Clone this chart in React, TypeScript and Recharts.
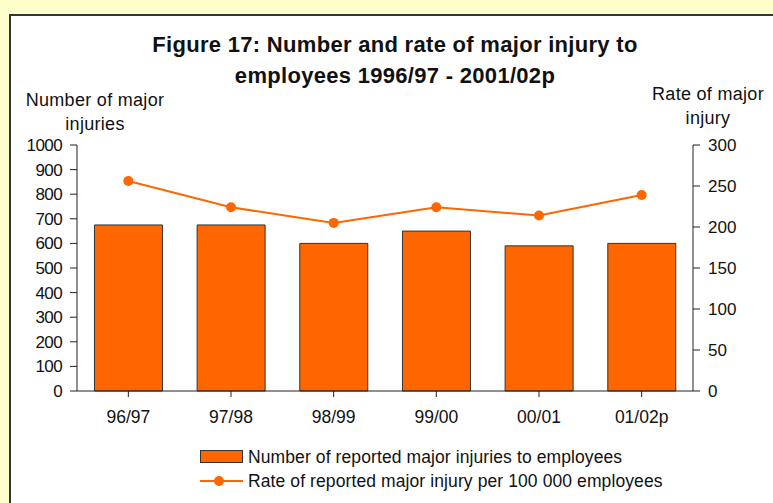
import React from "react";
import {
  ComposedChart,
  Bar,
  Line,
  XAxis,
  YAxis,
} from "recharts";

// years on the x axis
const years = ["96/97", "97/98", "98/99", "99/00", "00/01", "01/02p"];
// number of reported major injuries (left axis)
const injuries = [675, 675, 600, 650, 590, 600];
// rate per 100 000 employees (right axis)
const rates = [256, 224, 205, 224, 214, 239];

const leftTicks = [0, 100, 200, 300, 400, 500, 600, 700, 800, 900, 1000];
const rightTicks = [0, 50, 100, 150, 200, 250, 300];

const ORANGE = "#FF6600";
const AXIS = "#222";
const FONT = "'Liberation Sans', Arial, sans-serif";

const data = years.map((year, i) => ({
  year,
  injuries: injuries[i],
  rate: rates[i],
}));

const tickStyle = { fontSize: 17, fill: "#111", fontFamily: FONT };

const App: React.FC = () => {
  return (
    <div
      style={{
        position: "absolute",
        left: 0,
        top: 0,
        width: 773,
        height: 503,
        background: "#FFFFCC",
        overflow: "hidden",
        fontFamily: FONT,
        color: "#111",
      }}
    >
      {/* white panel */}
      <div
        style={{
          position: "absolute",
          left: 9,
          top: 14,
          width: 773,
          height: 503,
          background: "#fff",
          borderLeft: "2px solid #333",
          borderTop: "2px solid #333",
        }}
      />

      {/* title */}
      <div
        style={{
          position: "absolute",
          left: 0,
          width: 790,
          top: 29,
          textAlign: "center",
          fontWeight: "bold",
          fontSize: 22,
          letterSpacing: 0.3,
          lineHeight: "31px",
        }}
      >
        Figure 17: Number and rate of major injury to
        <br />
        employees 1996/97 - 2001/02p
      </div>

      {/* axis titles */}
      <div
        style={{
          position: "absolute",
          left: 15,
          width: 160,
          top: 88,
          textAlign: "center",
          fontSize: 18,
          letterSpacing: 0.3,
          lineHeight: "24px",
        }}
      >
        Number of major
        <br />
        injuries
      </div>
      <div
        style={{
          position: "absolute",
          left: 640,
          width: 136,
          top: 82,
          textAlign: "center",
          fontSize: 18,
          letterSpacing: 0.3,
          lineHeight: "24px",
        }}
      >
        Rate of major
        <br />
        injury
      </div>

      <div style={{ position: "absolute", left: 0, top: 0 }}>
        <ComposedChart
          width={773}
          height={503}
          data={data}
          margin={{ top: 145, right: 0, bottom: 82, left: 0 }}
          barCategoryGap="17%"
        >
          <XAxis
            dataKey="year"
            axisLine={{ stroke: AXIS }}
            tickLine={{ stroke: AXIS }}
            tickSize={6}
            tickMargin={14}
            height={30}
            tick={{ ...tickStyle, fontSize: 17.5 }}
            interval={0}
          />
          <YAxis
            yAxisId="left"
            domain={[0, 1000]}
            ticks={leftTicks}
            interval={0}
            width={77}
            axisLine={{ stroke: AXIS }}
            tickLine={{ stroke: AXIS }}
            tickSize={7}
            tickMargin={8}
            tick={{ ...tickStyle, letterSpacing: -0.6 }}
          />
          <YAxis
            yAxisId="right"
            orientation="right"
            domain={[0, 300]}
            ticks={rightTicks}
            interval={0}
            width={80}
            axisLine={{ stroke: AXIS }}
            tickLine={{ stroke: AXIS }}
            tickSize={7}
            tickMargin={8}
            tick={{ ...tickStyle, textAnchor: "start" }}
          />
          <Bar
            yAxisId="left"
            dataKey="injuries"
            fill={ORANGE}
            stroke="#333"
            strokeWidth={1}
            isAnimationActive={false}
          />
          <Line
            yAxisId="right"
            dataKey="rate"
            stroke={ORANGE}
            strokeWidth={2}
            dot={{ r: 5, fill: ORANGE, stroke: ORANGE, strokeWidth: 0 }}
            isAnimationActive={false}
          />
        </ComposedChart>
      </div>

      {/* legend */}
      <div
        style={{
          position: "absolute",
          left: 200,
          top: 445,
          fontSize: 17.5,
          letterSpacing: 0.1,
          lineHeight: "24px",
        }}
      >
        <div style={{ display: "flex", alignItems: "center" }}>
          <svg width={48} height={24}>
            <rect x={0.5} y={5.5} width={42} height={12} fill={ORANGE} stroke="#333" />
          </svg>
          <span>Number of reported major injuries to employees</span>
        </div>
        <div style={{ display: "flex", alignItems: "center" }}>
          <svg width={48} height={24}>
            <line x1={0} y1={12} x2={43} y2={12} stroke={ORANGE} strokeWidth={2} />
            <circle cx={19} cy={12} r={5} fill={ORANGE} />
          </svg>
          <span>Rate of reported major injury per 100 000 employees</span>
        </div>
      </div>
    </div>
  );
};

export default App;
